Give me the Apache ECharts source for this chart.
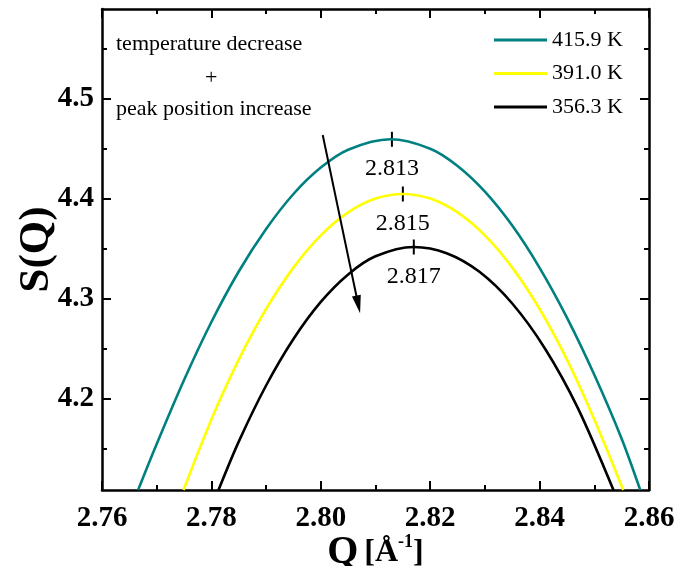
<!DOCTYPE html>
<html>
<head>
<meta charset="utf-8">
<script src="https://cdn.jsdelivr.net/npm/echarts@6/dist/echarts.min.js"></script>
<style>html,body{margin:0;padding:0;background:#fff;overflow:hidden}#c{width:678px;height:566px}</style>
</head>
<body>
<div id="c"></div>
<script>
// ---- data ----
const seriesNames = ['415.9 K', '391.0 K', '356.3 K'];
const seriesColors = ['#008080', '#FFFF00', '#000000'];

const q415 = [2.7666, 2.770, 2.775, 2.780, 2.785, 2.790, 2.795, 2.800, 2.805, 2.8127, 2.820, 2.825, 2.830, 2.835, 2.840, 2.845, 2.850, 2.855, 2.8584];
const s415 = [4.109, 4.155, 4.219, 4.277, 4.3275, 4.370, 4.405, 4.4314, 4.4493, 4.4597, 4.4503, 4.4331, 4.4074, 4.3734, 4.3312, 4.2814, 4.2242, 4.1603, 4.109];

const q391 = [2.7749, 2.780, 2.785, 2.790, 2.795, 2.800, 2.805, 2.810, 2.815, 2.820, 2.825, 2.830, 2.835, 2.840, 2.845, 2.850, 2.8553];
const s391 = [4.109, 4.1796, 4.2394, 4.290, 4.3314, 4.3636, 4.3866, 4.4004, 4.405, 4.4004, 4.3866, 4.3636, 4.3314, 4.290, 4.2394, 4.1796, 4.109];

const q356 = [2.7813, 2.785, 2.790, 2.795, 2.800, 2.805, 2.810, 2.817, 2.823, 2.829, 2.835, 2.841, 2.847, 2.8535];
const s356 = [4.109, 4.1574, 4.2135, 4.260, 4.2971, 4.3246, 4.3427, 4.352, 4.3458, 4.3272, 4.2955, 4.2503, 4.1909, 4.109];

const peakQ = [2.813, 2.815, 2.817];
const peakS = [4.4597, 4.405, 4.352];
const peakLabels = ['2.813', '2.815', '2.817'];

const xTickLabels = ['2.76', '2.78', '2.80', '2.82', '2.84', '2.86'];
const yMajorTicks = [4.2, 4.3, 4.4, 4.5];
const yMinorTicks = [4.15, 4.25, 4.35, 4.45, 4.55];

const arrowFrom = [2.80035, 4.464];
const arrowTo = [2.80684, 4.2945];

const noteLines = ['temperature decrease', '+', 'peak position increase'];

// ---- chart ----
const SERIF = '"Liberation Serif", "Times New Roman", serif';
const chart = echarts.init(document.getElementById('c'), null, {renderer: 'canvas'});

const zip = (a, b) => a.map((v, i) => [v, b[i]]);
const X_MIN = 2.76, X_MAX = 2.86, Y_MIN = 4.109, Y_MAX = 4.59;

const axisLine = {show: true, lineStyle: {color: '#000', width: 2.5}};
const tickLabelStyle = {fontFamily: SERIF, fontWeight: 'bold', fontSize: 29, color: '#000'};

function xAxisDef(pos, showLabel) {
  return {
    type: 'value', position: pos, min: X_MIN, max: X_MAX, interval: 0.02,
    axisLine: axisLine,
    axisTick: {show: true, inside: true, length: 9, lineStyle: {color: '#000', width: 2}},
    minorTick: {show: true, splitNumber: 2, length: 5, lineStyle: {color: '#000', width: 2}},
    splitLine: {show: false}, minorSplitLine: {show: false},
    axisLabel: showLabel ? Object.assign({margin: 14, formatter: function (v) {
      const s = v.toFixed(2); return xTickLabels.indexOf(s) >= 0 ? s : '';
    }}, tickLabelStyle) : {show: false}
  };
}
function yAxisDef(pos, ticks, len, showLabel, showLine) {
  return {
    type: 'value', position: pos, min: Y_MIN, max: Y_MAX,
    axisLine: showLine ? axisLine : {show: false},
    axisTick: {show: true, inside: true, length: len, customValues: ticks, lineStyle: {color: '#000', width: 2}},
    splitLine: {show: false},
    axisLabel: showLabel ? Object.assign({margin: 8, customValues: ticks, formatter: function (v) { return v.toFixed(1); }}, tickLabelStyle) : {show: false}
  };
}

const xBottom = xAxisDef('bottom', true);
xBottom.name = '{q|Q}{g| }{u|[Å}{s|-1}{u|]}';
xBottom.nameLocation = 'middle';
xBottom.nameGap = 43;
xBottom.nameMoveOverlap = false;
xBottom.nameTextStyle = {
  fontFamily: SERIF, fontWeight: 'bold', color: '#000',
  rich: {
    q: {fontFamily: SERIF, fontWeight: 'bold', fontSize: 40, color: '#000'},
    g: {fontFamily: SERIF, fontSize: 20, color: '#000', width: 6},
    u: {fontFamily: SERIF, fontWeight: 'bold', fontSize: 32, color: '#000'},
    s: {fontFamily: SERIF, fontWeight: 'bold', fontSize: 18, color: '#000', verticalAlign: 'top', padding: [0, 0, 14, 0]}
  }
};

const yLeft = yAxisDef('left', yMajorTicks, 9, true, true);
yLeft.name = 'S(Q)';
yLeft.nameLocation = 'middle';
yLeft.nameGap = 44;
yLeft.nameMoveOverlap = false;
yLeft.nameTextStyle = {fontFamily: SERIF, fontWeight: 'bold', fontSize: 43, color: '#000'};

const option = {
  backgroundColor: '#fff',
  animation: false,
  grid: {left: 102, right: 29, top: 9, bottom: 76, containLabel: false, outerBoundsMode: 'none'},
  xAxis: [xBottom, xAxisDef('top', false)],
  yAxis: [
    yLeft,
    yAxisDef('left', yMinorTicks, 5, false, false),
    yAxisDef('right', yMajorTicks, 9, false, true),
    yAxisDef('right', yMinorTicks, 5, false, false)
  ],
  legend: {
    data: seriesNames, orient: 'vertical', left: 489, top: 24, padding: 5,
    icon: 'rect', itemWidth: 53, itemHeight: 3, itemGap: 11.5,
    textStyle: {fontFamily: SERIF, fontSize: 22, color: '#000'},
    selectedMode: false
  },
  graphic: [
    {type: 'text', left: 116, top: 33, style: {text: noteLines[0], font: '22px ' + SERIF, fill: '#000'}},
    {type: 'text', left: 205, top: 67, style: {text: noteLines[1], font: '22px ' + SERIF, fill: '#000'}},
    {type: 'text', left: 116, top: 98, style: {text: noteLines[2], font: '22px ' + SERIF, fill: '#000'}}
  ],
  series: [
    {name: seriesNames[0], type: 'line', data: zip(q415, s415), smooth: 0.3, showSymbol: false, clip: true,
     lineStyle: {color: seriesColors[0], width: 2.6}, itemStyle: {color: seriesColors[0]}},
    {name: seriesNames[1], type: 'line', data: zip(q391, s391), smooth: 0.3, showSymbol: false, clip: true,
     lineStyle: {color: seriesColors[1], width: 2.6}, itemStyle: {color: seriesColors[1]}},
    {name: seriesNames[2], type: 'line', data: zip(q356, s356), smooth: 0.3, showSymbol: false, clip: true,
     lineStyle: {color: seriesColors[2], width: 2.6}, itemStyle: {color: seriesColors[2]}},
    {name: 'peaks', type: 'scatter', data: peakQ.map((q, i) => [q, peakS[i]]),
     symbol: 'rect', symbolSize: [2, 15], itemStyle: {color: '#000', opacity: 1}, silent: true,
     label: {show: true, position: 'bottom', distance: 10, fontFamily: SERIF, fontSize: 24, color: '#000', opacity: 1,
             formatter: function (p) { return peakLabels[p.dataIndex]; }},
     markLine: {
       silent: true, animation: false,
       symbol: ['none', 'triangle'],
       lineStyle: {color: '#000', width: 2, type: 'solid', opacity: 1},
       itemStyle: {opacity: 1},
       label: {show: false},
       emphasis: {disabled: true},
       data: [[{coord: arrowFrom, symbol: 'none'}, {coord: arrowTo, symbol: 'triangle', symbolSize: [9, 18]}]]
     }}
  ]
};
chart.setOption(option);
</script>
</body>
</html>
